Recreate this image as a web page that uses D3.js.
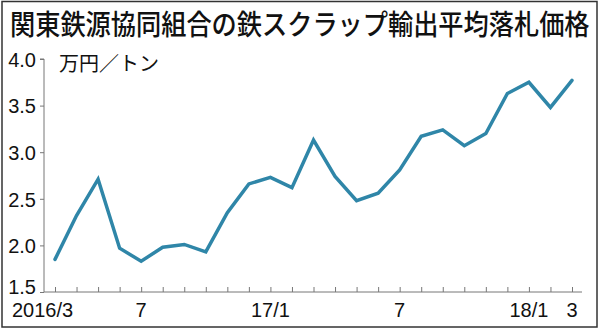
<!DOCTYPE html>
<html>
<head>
<meta charset="utf-8">
<script src="https://cdn.jsdelivr.net/npm/d3@7"></script>
<style>
body{margin:0;background:#fff;}
svg{display:block;}
</style>
</head>
<body>
<svg id="chart" width="600" height="330"></svg>
<script>
// monthly 2016/3 .. 2018/3
let months = [];
for(let i=0;i<25;i++) months.push(i);
let prices = [1.85, 2.32, 2.71, 1.97, 1.83, 1.98, 2.01, 1.93, 2.35, 2.66, 2.73, 2.62, 3.13,
              2.74, 2.48, 2.56, 2.81, 3.17, 3.24, 3.07, 3.20, 3.63, 3.75, 3.48, 3.77];
let yTicks = [1.5, 2.0, 2.5, 3.0, 3.5, 4.0];
let xLabels = [[0,'2016/3'], [4,'7'], [10,'17/1'], [16,'7'], [22,'18/1'], [24,'3']];
let title = '関東鉄源協同組合の鉄スクラップ輸出平均落札価格';
let unit = '万円／トン';

let svg = d3.select('#chart');
let fontJP = '"Noto Sans CJK JP", sans-serif';
let fontNum = '"Liberation Sans", Arial, sans-serif';

svg.append('rect').attr('x',2).attr('y',1.5).attr('width',595).attr('height',325.5)
    .attr('fill','#fff').attr('stroke','#333').attr('stroke-width',1.5);

// title, squeezed horizontally like the condensed face of the original
let tsize = 28;
svg.append('text').attr('transform',`translate(10,35) scale(${580/(title.length*tsize)},1)`)
    .text(title).attr('font-family',fontJP).attr('font-weight',500)
    .attr('font-size',tsize).attr('fill','#111');

let x0 = 44, x1 = 582, yTop = 59, yBot = 292;
let x = d3.scaleLinear().domain([0,24]).range([55,572]);
let y = d3.scaleLinear().domain([1.5,4.0]).range([yBot,yTop]);

// y axis
let yAxis = svg.append('g').attr('transform',`translate(${x0},0)`)
    .call(d3.axisLeft(y).tickValues(yTicks).tickFormat(d3.format('.1f')).tickSize(4).tickPadding(4));
yAxis.select('.domain').attr('d',`M-4,${yTop}H0V${yBot}`);
yAxis.selectAll('line,path').attr('stroke','#777');
yAxis.selectAll('text').attr('font-family',fontNum).attr('font-size',20).attr('fill','#111')
    .attr('dy',d=> d==yTicks[0] ? '0.06em' : '0.36em');

// x axis
let xAxis = svg.append('g').attr('transform',`translate(0,${yBot})`)
    .call(d3.axisTop(x).tickValues(months).tickFormat('').tickSize(5));
xAxis.select('.domain').attr('d',`M${x0},0H${x1}`);
xAxis.selectAll('line,path').attr('stroke','#777');

svg.append('g').selectAll('text').data(xLabels).join('text')
    .attr('x',(d,i)=> i==0 ? 12 : x(d[0]))
    .attr('y',317)
    .attr('text-anchor',(d,i)=> i==0 ? 'start' : 'middle')
    .attr('font-family',fontNum).attr('font-size',20).attr('fill','#111')
    .text(d=>d[1]);

svg.append('text').attr('x',59).attr('y',71).text(unit)
    .attr('font-family',fontJP).attr('font-size',20).attr('fill','#111');

let line = d3.line().x((d,i)=>x(i)).y(d=>y(d));
svg.append('path').datum(prices).attr('d',line)
    .attr('fill','none').attr('stroke','#2f86a8').attr('stroke-width',3.5)
    .attr('stroke-linejoin','miter').attr('stroke-linecap','round');
</script>
</body>
</html>
